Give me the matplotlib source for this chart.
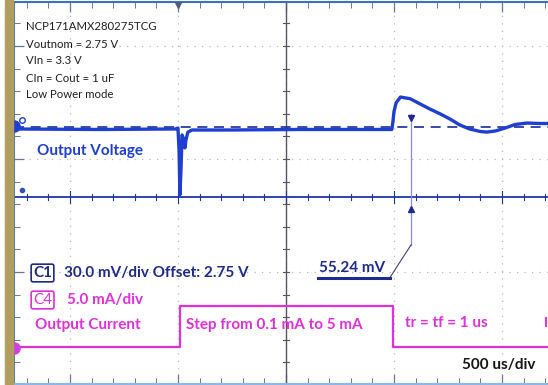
import matplotlib.pyplot as plt
from matplotlib.patches import Rectangle
import numpy as np

# time in us, 0 = load step (trigger)
t_v = [-760, -360, -10, 0, 5, 9, 14, 19, 28, 32, 37, 46, 65, 240, 565, 990,
       995, 1000, 1010, 1030, 1075, 1120, 1165, 1215, 1260, 1305, 1350, 1400,
       1430, 1470, 1515, 1560, 1615, 1675, 1715]
# output voltage, deviation from 2.75 V in mV (display scale)
v_mv = [-3.5, -4.4, -3.5, -1.8, -40, -120, -76, -14, -23, -37, -23, -9, -5.3,
        -5.3, -4.4, -4.4, 9, 27, 43, 53, 50, 41, 32, 23, 14, 3.5, -3.5, -8,
        -9, -7, -1.8, 4.4, 7, 6.2, 6.2]

# output current in mA
t_i = [-760, 8, 8, 995, 995, 1715]
i_ma = [0.1, 0.1, 5.0, 5.0, 0.1, 0.1]

info_lines = ["NCP171AMX280275TCG", "Voutnom = 2.75 V", "VIn = 3.3 V",
              "CIn = Cout = 1 uF", "Low Power mode"]

# screen mapping (y axis in graticule divisions)
V_POS, V_PER_DIV = 0.283, 200.0
I_POS, I_PER_DIV = -1.673, 13.45

BLUE = '#1f3fd0'
NAVY = '#1e2a8c'
MAG = '#e030d8'
FONT = ['Lato', 'DejaVu Sans']

fig = plt.figure(figsize=(5.48, 3.85), dpi=100)
ax = fig.add_axes([14 / 548, 1 / 385, 534 / 548, 382 / 385])
ax.set_xlim(-759, 1713)
ax.set_ylim(-1.991, 1.389)


def px(x, y):
    # pixel position -> axes fraction (for labels only)
    return (x - 14) / 534, (384 - y) / 382


fig.patches.append(Rectangle((5 / 548, 0), 8 / 548, 1, transform=fig.transFigure,
                             color='#b29c5e', zorder=0))

# graticule
ax.set_xticks([-500, 0, 500, 1000, 1500])
ax.set_xticks(np.arange(-700, 1701, 100), minor=True)
ax.set_yticks([-1, 0, 1])
ax.set_yticks(np.arange(-1.8, 1.39, 0.2), minor=True)
ax.grid(True, which='major', color='#b8b8b8', linestyle=(0, (1, 5)), lw=0.9)
ax.tick_params(which='both', direction='in', top=True, bottom=True, left=True,
               right=False, labelbottom=False, labelleft=False, colors='#6a7890')
ax.tick_params(which='major', length=7, width=0.9)
ax.tick_params(which='minor', length=4, width=0.7)
ax.spines['right'].set_visible(False)
ax.spines['top'].set_color('#3b6fc4')
ax.spines['left'].set_color('#3a7bd5')
ax.spines['bottom'].set_color('#8ab8ea')
for s in ['top', 'left', 'bottom']:
    ax.spines[s].set_linewidth(1.5)

# centre cross lines with ticks
yc = -0.336
ax.axhline(yc, color='#2035a5', lw=1.3, zorder=2)
ax.axvline(500, color='#555566', lw=1.0, zorder=2)
for tx in np.arange(-700, 1701, 100):
    h = 0.05 if tx % 500 == 0 else 0.03
    ax.plot([tx, tx], [yc - h, yc + h], color='#2035a5', lw=0.8)
for ty in np.arange(-1.8, 1.39, 0.2):
    ax.plot([488, 512], [ty, ty], color='#555566', lw=0.8)

# voltage reference (offset) dashed line
ax.axhline(V_POS, color='#1a2a9a', lw=1.2, ls=(0, (6, 4)), zorder=3)

# traces
v_y = [V_POS + v / V_PER_DIV for v in v_mv]
i_y = [I_POS + i / I_PER_DIV for i in i_ma]
ax.plot(t_v, v_y, color=BLUE, lw=2.4, zorder=5, solid_joinstyle='round')
ax.plot(t_i, i_y, color=MAG, lw=1.6, zorder=5)
ax.plot([1705, 1705], [I_POS + 2.6 / I_PER_DIV, I_POS + 3.6 / I_PER_DIV], color=MAG, lw=1.4)

# channel markers
ax.plot([-759], [V_POS + 1 / V_PER_DIV], 'o', color=BLUE, ms=8, clip_on=False, zorder=6)
ax.plot([-722], [V_POS + 12 / V_PER_DIV], 'o', mfc='none', mec=BLUE, ms=4, zorder=6)
ax.plot([-722], [yc + 0.06], 'o', color='#3050c0', ms=3, zorder=6)
ax.plot([-759], [I_POS], 'o', color='#d040e0', ms=8, clip_on=False, zorder=6)
ax.plot([0], [1.36], 'v', color='#506080', ms=5, zorder=6)

# cursor measurement
tc = 1079
ax.plot([tc, tc], [0.40, -0.76], color='#8a8ae8', lw=0.9, zorder=4)
ax.plot([tc], [0.36], 'v', color=NAVY, ms=4, zorder=6)
ax.plot([tc], [-0.44], '^', color=NAVY, ms=4, zorder=6)
ax.plot([tc, 981], [-0.76, -1.05], color='#40407a', lw=0.8, zorder=4)
ax.plot([648, 981], [-1.05, -1.05], color=NAVY, lw=2.2, zorder=4)

# text
for k, s in enumerate(info_lines):
    x, y = px(26, 27 + 17 * k)
    ax.text(x, y, s, transform=ax.transAxes, fontsize=8.2, color='#202020',
            va='center', family=FONT)


def label(x, y, s, c, fs=11, w='bold', **kw):
    ax.text(*px(x, y), s, transform=ax.transAxes, fontsize=fs, color=c,
            va='center', fontweight=w, family=FONT, **kw)


label(37, 151, "Output Voltage", BLUE)
label(33, 273, "C1", NAVY, bbox=dict(boxstyle='round,pad=0.12', fc='white', ec=NAVY, lw=1.2))
label(64, 273, "30.0 mV/div Offset: 2.75 V", NAVY)
label(33, 300, "C4", MAG, w='normal', bbox=dict(boxstyle='round,pad=0.12', fc='white', ec=MAG, lw=1.2))
label(67, 300, "5.0 mA/div", MAG)
label(35, 325, "Output Current", MAG)
label(186, 325, "Step from 0.1 mA to 5 mA", MAG)
label(405, 323, "tr = tf = 1 us", MAG)
label(462, 365, "500 us/div", '#151515')
label(319, 268, "55.24 mV", NAVY)

fig.savefig('out.png', dpi=100)
